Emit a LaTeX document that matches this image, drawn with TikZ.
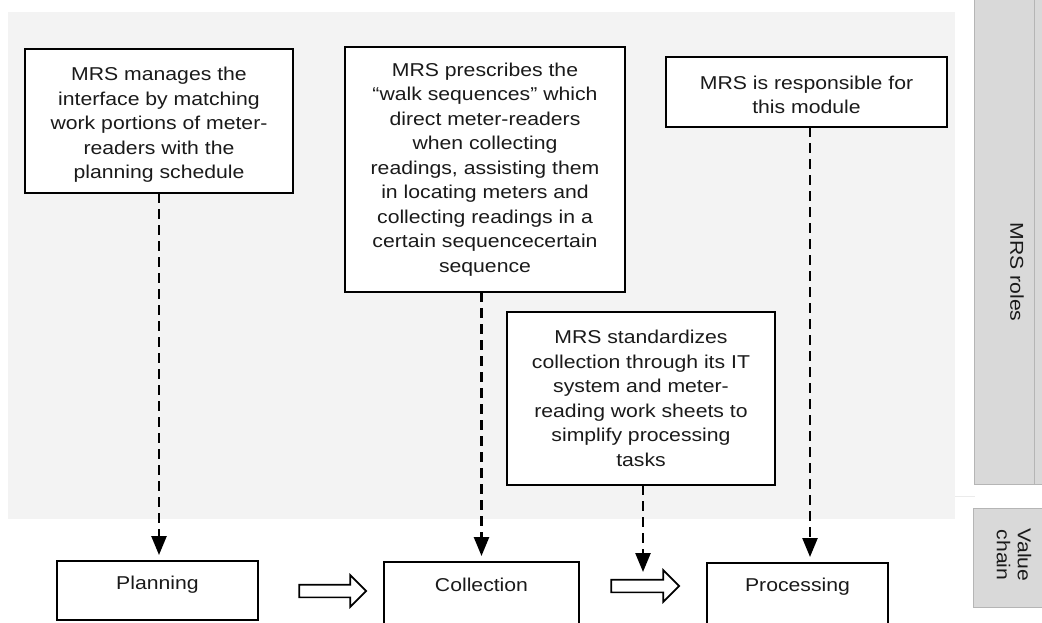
\documentclass[tikz,border=0pt]{standalone}
\usepackage{fontspec}
\setmainfont{Liberation Sans}[FakeStretch=1.14]
\usetikzlibrary{arrows.meta,shapes.arrows}
\definecolor{bgray}{HTML}{F3F3F3}
\definecolor{sgray}{HTML}{D9D9D9}
\definecolor{sline}{HTML}{B5B5B5}
\definecolor{tcol}{HTML}{1A1A1A}
\begin{document}
\begin{tikzpicture}[x=1pt,y=-1pt,
  rolebox/.style={draw=black, line width=1.8pt, fill=white, inner sep=0pt, outer sep=0pt, align=center, text=tcol,
    font=\fontsize{18.6}{24.5}\selectfont},
  txt/.style={align=center, text=tcol, font=\fontsize{18.6}{24.5}\selectfont, inner sep=0pt},
  dasharrow/.style={line width=2.5pt, dash pattern=on 10pt off 6pt, -{Triangle[length=19pt,width=15pt]}, shorten >=6pt},
  blockarrow/.style={single arrow, draw=black, fill=white, line width=1.7pt, inner sep=5.5pt,
    single arrow head extend=9.5pt, outer sep=0pt}
]
\useasboundingbox (0,0) rectangle (1042,622);
\clip (0,0) rectangle (1042,622);
\fill[white] (0,0) rectangle (1042,622);
% background region
\fill[bgray] (8,12) rectangle (955,519);
\draw[color=black!8, line width=1.5pt] (955,496.5) -- (975,496.5);
% side labels
\node[fill=sgray, minimum width=68pt, minimum height=484pt, anchor=north west, inner sep=0pt, outer sep=0pt] (roles) at (974,0) {};
\draw[sline, line width=1pt] (roles.north west) -- (roles.south west) -- (roles.south east);
\draw[sline, line width=1pt] (1034,0) -- (1034,484);
\node[txt, rotate=-90] (rolestxt) at (1017,272) {MRS roles};
\node[fill=sgray, minimum width=69pt, minimum height=99pt, anchor=north west, inner sep=0pt, outer sep=0pt] (vc) at (973,508) {};
\draw[sline, line width=1pt] (vc.north east) -- (vc.north west) -- (vc.south west) -- (vc.south east);
\node[txt, rotate=-90, font=\fontsize{18.6}{21}\selectfont] (vctxt) at (1014,555) {Value\\chain};
% role boxes
\node[rolebox, minimum width=268pt, minimum height=144pt] (A) at (159,121) {};
\node[txt] (Atxt) at (159,125) {MRS manages the\\interface by matching\\work portions of meter-\\readers with the\\planning schedule};
\node[rolebox, minimum width=280pt, minimum height=245pt] (B) at (485,169.5) {MRS prescribes the\\“walk sequences” which\\direct meter-readers\\when collecting\\readings, assisting them\\in locating meters and\\collecting readings in a\\certain sequencecertain\\sequence};
\node[rolebox, minimum width=281pt, minimum height=70pt] (C) at (806.5,92) {};
\node[txt] (Ctxt) at (806.5,95) {MRS is responsible for\\this module};
\node[rolebox, minimum width=268pt, minimum height=173pt] (D) at (641,398.5) {MRS standardizes\\collection through its IT\\system and meter-\\reading work sheets to\\simplify processing\\tasks};
% value chain boxes
\node[rolebox, minimum width=201pt, minimum height=59pt] (P) at (157.5,590.5) {};
\node[txt] (Ptxt) at (157.5,585) {Planning};
\node[rolebox, minimum width=195pt, minimum height=62pt] (Col) at (481.5,593) {};
\node[txt] (Coltxt) at (481.5,585) {Collection};
\node[rolebox, minimum width=181pt, minimum height=61pt] (Pr) at (797.5,593.5) {};
\node[txt] (Prtxt) at (797.5,587) {Processing};
% block arrows
\node[blockarrow, minimum height=67pt] (h1) at (329.5,591) {};
\node[blockarrow, minimum height=68pt] (h2) at (642,586) {};
% dashed connectors
\draw[dasharrow] (A.south) -- (A.south |- P.north);
\draw[dasharrow] (Col.north |- B.south) -- (Col.north);
\draw[dasharrow] ([xshift=3.5pt]C.south) -- ([xshift=3.5pt]C.south |- Pr.north);
\coordinate (dend) at (643,572);
\draw[dasharrow, shorten >=0pt] (dend |- D.south) -- (dend);
\end{tikzpicture}
\end{document}
